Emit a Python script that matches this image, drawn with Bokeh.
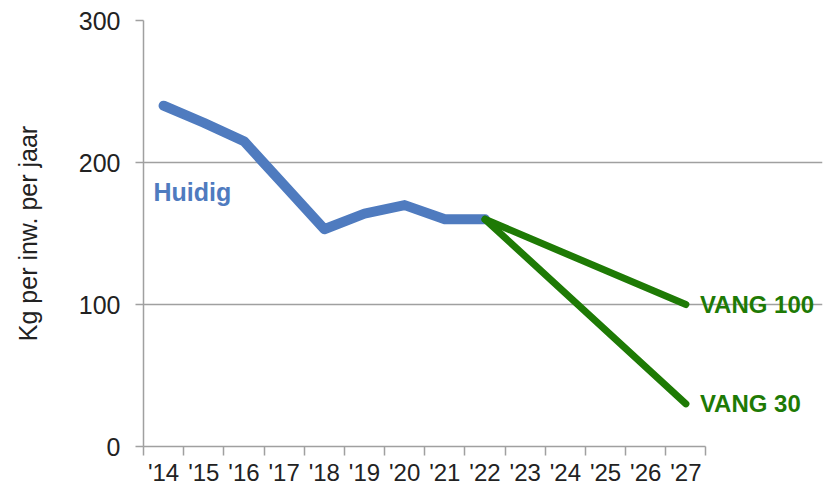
from bokeh.plotting import figure
from bokeh.models import FixedTicker, Range1d, Label
from bokeh.embed import file_html
from bokeh.resources import INLINE

years = ["'14", "'15", "'16", "'17", "'18", "'19", "'20", "'21", "'22",
         "'23", "'24", "'25", "'26", "'27"]
huidig_years = ["'14", "'15", "'16", "'17", "'18", "'19", "'20", "'21", "'22"]
huidig = [240, 228, 215, 184, 153, 164, 170, 160, 160]
vang100_years = ["'22", "'27"]
vang100 = [160, 100]
vang30_years = ["'22", "'27"]
vang30 = [160, 30]
y_ticks = [0, 100, 200, 300]

BLUE = "#4f7bbf"
GREEN = "#1e7a05"
GRAY = "#a0a0a0"
FONT = "Liberation Sans"
N = len(years)

def pos(labels):
    return [years.index(l) + 0.5 for l in labels]

p = figure(width=824, height=488, output_backend="svg", toolbar_location=None,
           x_range=Range1d(0, 16.9), y_range=Range1d(0, 300),
           min_border_left=143, min_border_right=2, min_border_top=20,
           min_border_bottom=10)
p.outline_line_color = None
p.xgrid.visible = False
p.ygrid.grid_line_color = GRAY
p.ygrid.grid_line_width = 1.5
p.ygrid.bounds = (0, N)

p.line(pos(huidig_years), huidig, line_color=BLUE, line_width=10,
       line_cap="round", line_join="round")
p.line(pos(vang100_years), vang100, line_color=GREEN, line_width=7,
       line_cap="round", line_join="round")
p.line(pos(vang30_years), vang30, line_color=GREEN, line_width=7,
       line_cap="round", line_join="round")

# axes
xa = p.xaxis[0]
xa.bounds = (0, N)
xa.ticker = FixedTicker(ticks=[i + 0.5 for i in range(N)],
                        minor_ticks=list(range(N + 1)))
xa.major_label_overrides = {i + 0.5: y for i, y in enumerate(years)}
xa.major_tick_out = 0
xa.major_tick_in = 0
xa.minor_tick_out = 9
xa.minor_tick_in = 0
xa.minor_tick_line_color = GRAY
xa.minor_tick_line_width = 1.5
xa.axis_line_color = GRAY
xa.axis_line_width = 1.5
xa.major_label_text_font = FONT
xa.major_label_text_font_size = "24px"
xa.major_label_text_color = "#222222"
xa.major_label_standoff = 3

ya = p.yaxis[0]
ya.ticker = FixedTicker(ticks=y_ticks, minor_ticks=[])
ya.major_tick_out = 8
ya.major_tick_in = 0
ya.major_tick_line_color = GRAY
ya.major_tick_line_width = 1.5
ya.axis_line_color = GRAY
ya.axis_line_width = 1.5
ya.major_label_text_font = FONT
ya.major_label_text_font_size = "25px"
ya.major_label_text_color = "#222222"
ya.major_label_standoff = 15
ya.axis_label = "Kg per inw. per jaar"
ya.axis_label_text_font = FONT
ya.axis_label_text_font_size = "25px"
ya.axis_label_text_font_style = "normal"
ya.axis_label_text_color = "#222222"
ya.axis_label_standoff = 34

p.add_layout(Label(x=0.25, y=179, text="Huidig", text_color=BLUE,
                   text_font=FONT, text_font_size="25px",
                   text_font_style="bold", text_baseline="middle"))
p.add_layout(Label(x=pos(vang100_years)[-1], y=vang100[-1], x_offset=14,
                   text="VANG 100", text_color=GREEN, text_font=FONT,
                   text_font_size="24px", text_font_style="bold",
                   text_baseline="middle"))
p.add_layout(Label(x=pos(vang30_years)[-1], y=vang30[-1], x_offset=14,
                   text="VANG 30", text_color=GREEN, text_font=FONT,
                   text_font_size="24px", text_font_style="bold",
                   text_baseline="middle"))

open("out.html", "w").write(file_html(p, INLINE))
